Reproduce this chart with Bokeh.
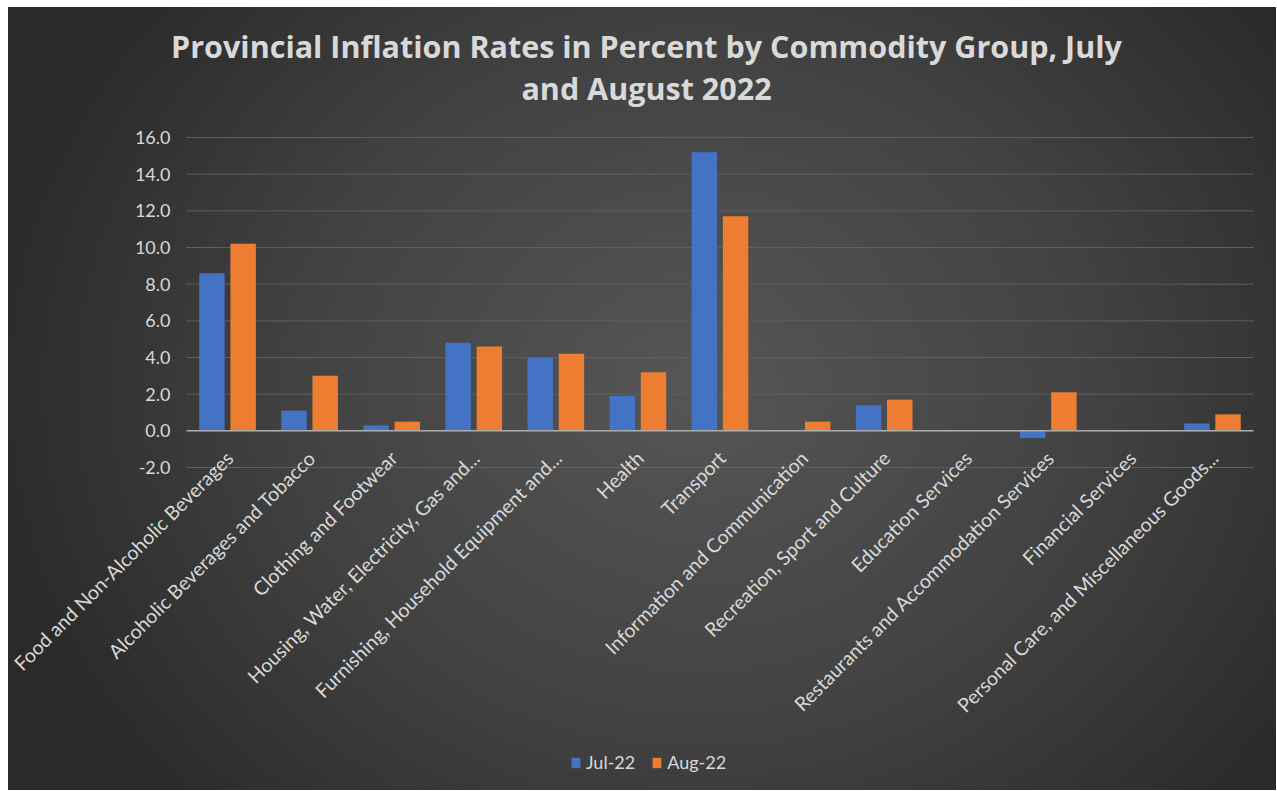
import math
from bokeh.plotting import figure
from bokeh.models import ColumnDataSource, Range1d, Legend, LegendItem, Label, InlineStyleSheet
from bokeh.core.properties import value
from bokeh.embed import file_html
from bokeh.resources import INLINE

categories = [
    "Food and Non-Alcoholic Beverages",
    "Alcoholic Beverages and Tobacco",
    "Clothing and Footwear",
    "Housing, Water, Electricity, Gas and...",
    "Furnishing, Household Equipment and...",
    "Health",
    "Transport",
    "Information and Communication",
    "Recreation, Sport and Culture",
    "Education Services",
    "Restaurants and Accommodation Services",
    "Financial Services",
    "Personal Care, and Miscellaneous Goods...",
]
jul_22 = [8.6, 1.1, 0.3, 4.8, 4.0, 1.9, 15.2, 0.0, 1.4, 0.0, -0.4, 0.0, 0.4]
aug_22 = [10.2, 3.0, 0.5, 4.6, 4.2, 3.2, 11.7, 0.5, 1.7, 0.0, 2.1, 0.0, 0.9]
series_names = ["Jul-22", "Aug-22"]
y_ticks = [-2, 0, 2, 4, 6, 8, 10, 12, 14, 16]
y_tick_labels = ["-2.0", "0.0", "2.0", "4.0", "6.0", "8.0", "10.0", "12.0", "14.0", "16.0"]
title_line1 = "Provincial Inflation Rates in Percent by Commodity Group, July"
title_line2 = "and August 2022"

FONT = "Lato"
TFONT = "Open Sans"
TXT = "#d9d9d9"
BLUE = "#4472c4"
ORANGE = "#ed7d31"

# ---- layout geometry (pixels) ----
W, H = 1268, 783
PLOT_L, PLOT_R = 178, 1245          # horizontal extent of the category area
TOP_VAL_PX, BOT_VAL_PX = 130, 460   # pixel rows of the top (16) and bottom (-2) ticks
n = len(categories)
cw = (PLOT_R - PLOT_L) / n
ppu = (BOT_VAL_PX - TOP_VAL_PX) / (y_ticks[-1] - y_ticks[0])
x_lo, x_hi = -PLOT_L / cw, n + (W - PLOT_R) / cw
y_hi = y_ticks[-1] + TOP_VAL_PX / ppu
y_lo = y_ticks[0] - (H - BOT_VAL_PX) / ppu

idx = [i + 0.5 for i in range(n)]
src = ColumnDataSource(data=dict(
    xc=idx, xj=[v - 0.19 for v in idx], xa=[v + 0.19 for v in idx],
    jul=jul_22, aug=aug_22, cat=categories, base=[y_ticks[0]] * n))
ysrc = ColumnDataSource(data=dict(y=y_ticks, lab=y_tick_labels,
                                  x0=[0] * len(y_ticks), x1=[n] * len(y_ticks),
                                  xl=[(162 - PLOT_L) / cw] * len(y_ticks)))

p = figure(x_range=Range1d(x_lo, x_hi), y_range=Range1d(y_lo, y_hi),
           width=W, height=H, output_backend="svg", toolbar_location=None,
           min_border=0)
p.axis.visible = False
p.grid.visible = False
p.background_fill_alpha = 0
p.border_fill_alpha = 0
p.outline_line_color = None
p.stylesheets = [InlineStyleSheet(css=
    ":host { margin: 7px 0 0 8px; background: radial-gradient(ellipse 720px 620px at 690px 380px, "
    "#565656 0%, #424242 55%, #2a2a2a 100%); }")]

# gridlines
p.segment(x0="x0", x1="x1", y0="y", y1="y", source=ysrc, line_color="#5f5f5f", line_width=1)

# bars
r1 = p.vbar(x="xj", top="jul", bottom=0, width=0.31, source=src,
            fill_color=BLUE, line_color=None)
r2 = p.vbar(x="xa", top="aug", bottom=0, width=0.31, source=src,
            fill_color=ORANGE, line_color=None)

# zero line
p.segment(x0=[0], x1=[n], y0=[0], y1=[0], line_color="#ababab", line_width=1.5)

# y tick labels
p.text(x="xl", y="y", text="lab", source=ysrc, text_align="right", text_baseline="middle",
       text_font=value(FONT), text_font_size="18px", text_color=TXT)

# category labels
p.text(x="xc", y="base", text="cat", source=src, angle=math.pi / 4,
       text_align="right", text_baseline="middle", x_offset=2, y_offset=-13,
       text_font=value(FONT), text_font_size="19.5px", text_color=TXT)

# titles
p.add_layout(Label(x=638, y=H - 38, x_units="screen", y_units="screen", text=title_line1,
                   text_align="center", text_baseline="middle", text_font=TFONT,
                   text_font_size="30.5px", text_font_style="bold", text_color=TXT))
p.add_layout(Label(x=638, y=H - 80, x_units="screen", y_units="screen", text=title_line2,
                   text_align="center", text_baseline="middle", text_font=TFONT,
                   text_font_size="30.5px", text_font_style="bold", text_color=TXT))

legend = Legend(items=[LegendItem(label=series_names[0], renderers=[r1]),
                       LegendItem(label=series_names[1], renderers=[r2])],
                orientation="horizontal", location=(562, 17),
                background_fill_alpha=0, border_line_color=None,
                label_text_color=TXT, label_text_font=FONT, label_text_font_size="18px",
                glyph_width=11, glyph_height=13, label_standoff=5, spacing=16,
                padding=0, margin=0)
p.add_layout(legend, "center")

open("out.html", "w").write(file_html(p, INLINE))
